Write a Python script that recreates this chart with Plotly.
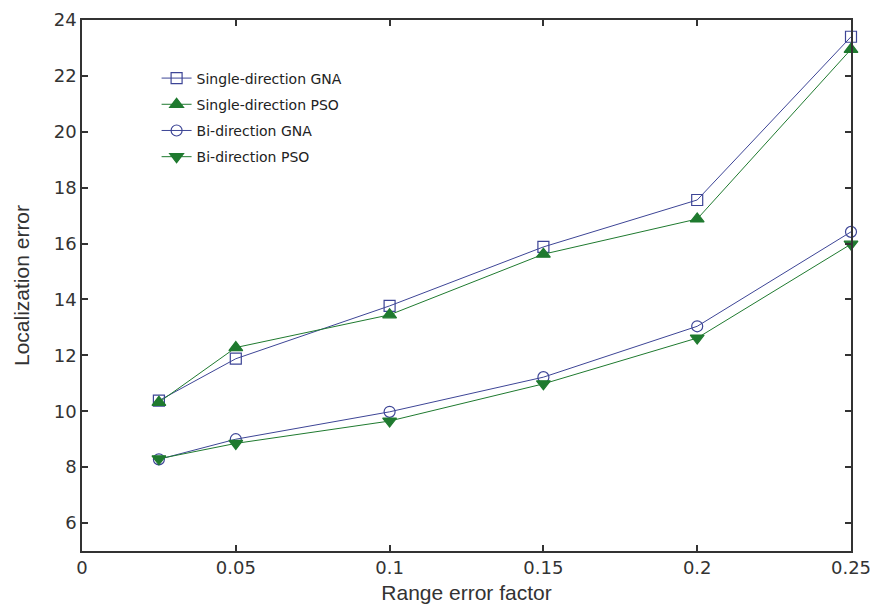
import plotly.graph_objects as go

x_vals = [0.025, 0.05, 0.1, 0.15, 0.2, 0.25]
single_gna = [10.38, 11.88, 13.77, 15.88, 17.56, 23.4]
single_pso = [10.32, 12.28, 13.45, 15.62, 16.88, 22.95]
bi_gna = [8.28, 9.0, 9.98, 11.22, 13.04, 16.42]
bi_pso = [8.3, 8.85, 9.65, 10.98, 12.62, 15.98]

names = ["Single-direction GNA", "Single-direction PSO", "Bi-direction GNA", "Bi-direction PSO"]
series = [single_gna, single_pso, bi_gna, bi_pso]

blue = "#3d4596"
green = "#1f7a2f"
styles = [
    dict(color=blue, symbol="square-open", size=11),
    dict(color=green, symbol="triangle-up", size=12),
    dict(color=blue, symbol="circle-open", size=11),
    dict(color=green, symbol="triangle-down", size=12),
]

fig = go.Figure()
for i, (nm, ys, st) in enumerate(zip(names, series, styles)):
    fig.add_trace(go.Scatter(
        x=x_vals, y=ys, name=nm, mode="lines+markers",
        legendgroup=str(i),
        line=dict(color=st["color"], width=1),
        marker=dict(symbol=st["symbol"], size=st["size"], color=st["color"],
                    line=dict(color=st["color"], width=1.2)),
        cliponaxis=False,
    ))

axis_common = dict(
    showline=True, linecolor="#333333", linewidth=1.5, mirror="ticks",
    ticks="inside", ticklen=6, tickcolor="#333333", tickwidth=1.5,
    showgrid=False, zeroline=False, automargin=False,
    tickfont=dict(family="DejaVu Sans", size=18, color="#333333"),
)

title_font = dict(family="Liberation Sans", size=21, color="#333333")

fig.update_layout(
    width=874, height=609,
    margin=dict(l=82, r=23, t=20, b=58),
    paper_bgcolor="white", plot_bgcolor="white",
    font=dict(family="DejaVu Sans", color="#333333"),
    xaxis=dict(range=[0, 0.25], tickvals=[0, 0.05, 0.1, 0.15, 0.2, 0.25],
               ticktext=["0", "0.05", "0.1", "0.15", "0.2", "0.25"],
               title=dict(text="Range error factor", font=title_font, standoff=8),
               **axis_common),
    yaxis=dict(range=[5, 24], tickvals=[6, 8, 10, 12, 14, 16, 18, 20, 22, 24],
               title=dict(text="Localization error", font=title_font, standoff=18),
               **axis_common),
    showlegend=True,
    legend=dict(x=0.097, y=0.92, xanchor="left", yanchor="top",
                bgcolor="rgba(255,255,255,0)", tracegroupgap=5,
                font=dict(family="DejaVu Sans", size=14, color="#222222")),
)

fig.write_html("out.html")
